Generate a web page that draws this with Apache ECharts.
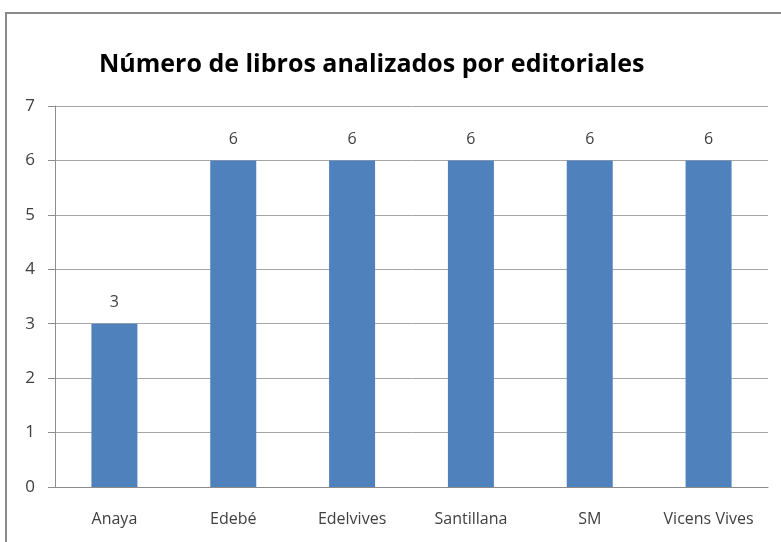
<!DOCTYPE html>
<html style="height: 100%">
<head>
    <meta charset="utf-8">
</head>
<body style="height: 100%; margin: 0; background: #fff">
<div id="container" style="width: 781px; height: 542px"></div>
<script type="text/javascript" src="https://cdn.jsdelivr.net/npm/echarts@6/dist/echarts.min.js"></script>
<script type="text/javascript">
    var editoriales = ['Anaya', 'Edebé', 'Edelvives', 'Santillana', 'SM', 'Vicens Vives'];
    var libros = [3, 6, 6, 6, 6, 6];
    var yTicks = [0, 1, 2, 3, 4, 5, 6, 7];

    var myChart = echarts.init(document.getElementById('container'));
    var gris = '#8c8c8c';
    var fuente = 'Open Sans, sans-serif';

    var option = {
        animation: false,
        backgroundColor: '#fff',
        graphic: [{
            type: 'rect',
            shape: {x: 6, y: 13, width: 800, height: 560},
            style: {fill: 'none', stroke: '#8a8a8a', lineWidth: 2},
            silent: true
        }],
        title: {
            text: 'Número de libros analizados por editoriales',
            left: 94,
            top: 47,
            textStyle: {
                fontFamily: fuente,
                fontSize: 25,
                fontWeight: 'bold',
                color: '#000'
            }
        },
        grid: {left: 55, right: 13, top: 106, bottom: 55},
        xAxis: {
            type: 'category',
            data: editoriales,
            axisLine: {lineStyle: {color: gris}},
            axisTick: {length: 6, lineStyle: {color: gris}},
            axisLabel: {
                color: '#404040',
                fontSize: 16,
                margin: 24,
                fontFamily: fuente
            }
        },
        yAxis: {
            type: 'value',
            min: yTicks[0],
            max: yTicks[yTicks.length - 1],
            interval: 1,
            axisLine: {show: true, lineStyle: {color: gris}},
            axisTick: {show: true, length: 7, lineStyle: {color: gris}},
            splitLine: {lineStyle: {color: '#a6a6a6'}},
            axisLabel: {
                color: '#404040',
                fontSize: 17,
                margin: 20,
                fontFamily: fuente
            }
        },
        series: [{
            type: 'bar',
            data: libros,
            barWidth: 46,
            itemStyle: {color: '#4f81bd'},
            label: {
                show: true,
                position: 'top',
                distance: 13,
                color: '#404040',
                fontSize: 16,
                fontFamily: fuente
            }
        }]
    };
    myChart.setOption(option);
</script>
</body>
</html>
